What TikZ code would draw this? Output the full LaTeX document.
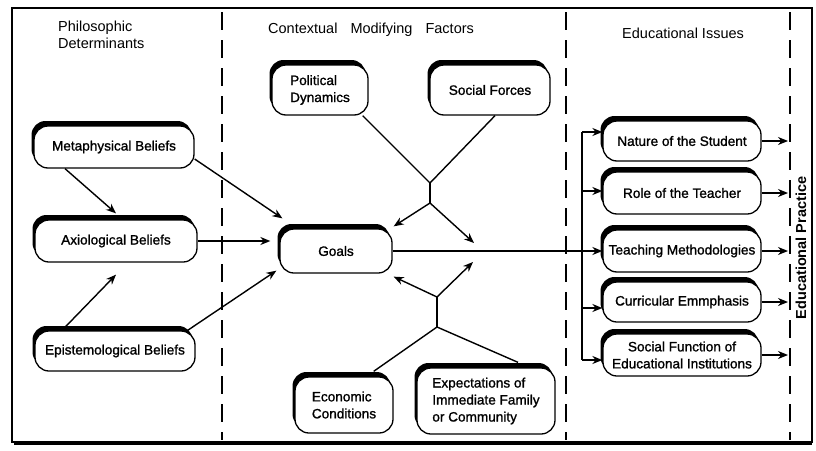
\documentclass[tikz,border=0pt]{standalone}
\usepackage{fontspec}
\setmainfont{Liberation Sans}
\newfontfamily\boxfont[FakeBold=1.2]{Liberation Sans}
\usetikzlibrary{shadows,arrows.meta}
\begin{document}
\begin{tikzpicture}[x=1pt,y=-1pt,
  box/.style={draw, line width=1.3pt, fill=white, rounded corners=14pt, inner sep=2pt,
    general shadow={fill=black, shadow xshift=-2.5pt, shadow yshift=5pt},
    font=\boxfont\fontsize{13.6}{17}\selectfont, align=center},
  arr/.style={line width=1.4pt, -{Stealth[length=10pt,width=8pt]}},
  ln/.style={line width=1.4pt},
  dsh/.style={line width=1.3pt, dash pattern=on 18pt off 10pt},
  ttl/.style={font=\fontsize{14.5}{17}\selectfont, align=left, inner sep=0pt, anchor=base west}]
\useasboundingbox (0,0) rectangle (816,450);
\fill[white] (0,0) rectangle (816,450);
% frame
\draw[line width=1.4pt] (12,8) rectangle (812,442);
\draw[line width=3pt] (14,443) -- (812,443);
% dashed separators
\draw[dsh] (222,12) -- (222,440);
\draw[dsh] (566,12) -- (566,440);
\draw[dsh] (790,12) -- (790,440);
% titles
\node[ttl] (t1) at (58,48) {Philosophic\\Determinants};
\node[ttl] (t2) at (268,33) {Contextual\hspace{13pt}Modifying\hspace{13pt}Factors};
\node[ttl] (t3) at (622,38) {Educational Issues};
\node[rotate=90, font=\bfseries\fontsize{14.5}{17}\selectfont, inner sep=0pt] (t4) at (801,248) {Educational Practice};
% left column
\node[box, minimum width=160pt, minimum height=42pt] (meta) at (114,147) {Metaphysical Beliefs};
\node[box, minimum width=162pt, minimum height=42pt] (axio) at (116,241) {Axiological Beliefs};
\node[box, minimum width=160pt, minimum height=40pt] (epist) at (115,351) {Epistemological Beliefs};
% middle column
\node[box, minimum width=112pt, minimum height=44pt] (goals) at (336,251) {Goals};
\node[box, minimum width=96pt, minimum height=50pt, align=left] (pol) at (320,90) {Political\\Dynamics};
\node[box, minimum width=120pt, minimum height=50pt] (soc) at (490,90) {Social Forces};
\node[box, minimum width=98pt, minimum height=56pt, align=left] (econ) at (344,405) {Economic\\Conditions};
\node[box, minimum width=138pt, minimum height=66pt, align=left] (expn) at (486,401) {Expectations of\\Immediate Family\\or Community};
% right column
\node[box, minimum width=158pt, minimum height=40pt] (nature) at (682,141) {Nature of the Student};
\node[box, minimum width=158pt, minimum height=42pt] (role) at (682,193) {Role of the Teacher};
\node[box, minimum width=158pt, minimum height=42pt] (teach) at (682,251) {Teaching Methodologies};
\node[box, minimum width=158pt, minimum height=40pt] (curr) at (682,302) {Curricular Emmphasis};
\node[box, minimum width=158pt, minimum height=42pt] (socf) at (682,355) {Social Function of\\Educational Institutions};
% left arrows
\draw[arr] ([xshift=-49pt]meta.south) -- ([yshift=6pt]axio.north);
\draw[arr] ([xshift=-53pt]epist.north) -- ([yshift=-12pt]axio.south);
\draw[arr] ([yshift=-12pt]meta.east) -- ([xshift=3pt,yshift=10pt]goals.north west);
\draw[arr] (axio.east) -- ([xshift=-9pt]goals.west |- axio.east);
\draw[arr] ([xshift=-8pt]epist.north east) -- ([xshift=-3pt,yshift=3pt]goals.south west);
% upper junction
\coordinate (j1) at (430,183);
\coordinate (j2) at (430,203);
\coordinate (a1) at (474,243);
\draw[ln] ([xshift=-6pt]pol.south east) -- (j1);
\draw[ln] ([xshift=5pt]soc.south) -- (j1);
\draw[ln] (j1) -- (j2);
\draw[arr] (j2) -- ([xshift=1pt,yshift=2pt]goals.north east);
\draw[arr] (j2) -- (a1);
% lower junction
\coordinate (j3) at (437,297);
\coordinate (j4) at (437,327);
\coordinate (a2) at (473,262);
\draw[ln] (j4) -- ([xshift=-20pt,yshift=5pt]econ.north east);
\draw[ln] (j4) -- ([xshift=32pt,yshift=5pt]expn.north);
\draw[ln] (j3) -- (j4);
\draw[arr] (j3) -- ([xshift=1pt,yshift=-3pt]goals.south east);
\draw[arr] (j3) -- (a2);
% bus to issues
\coordinate (b1) at (582,132);
\coordinate (b2) at (582,191);
\coordinate (b4) at (582,308);
\coordinate (b5) at (582,360);
\draw[ln] (b1) -- (b5);
\draw[arr] (b1) -- (nature.west |- b1);
\draw[arr] (b2) -- (role.west |- b2);
\draw[arr] (goals.east) -- (teach.west);
\draw[arr] (b4) -- (curr.west |- b4);
\draw[arr] (b5) -- (socf.west |- b5);
% arrows to practice
\coordinate (d3) at (788,0);
\draw[arr] (nature.east) -- (nature.east -| d3);
\draw[arr] (role.east) -- (role.east -| d3);
\draw[arr] (teach.east) -- (teach.east -| d3);
\draw[arr] (curr.east) -- (curr.east -| d3);
\draw[arr] (socf.east) -- (socf.east -| d3);
\end{tikzpicture}
\end{document}
